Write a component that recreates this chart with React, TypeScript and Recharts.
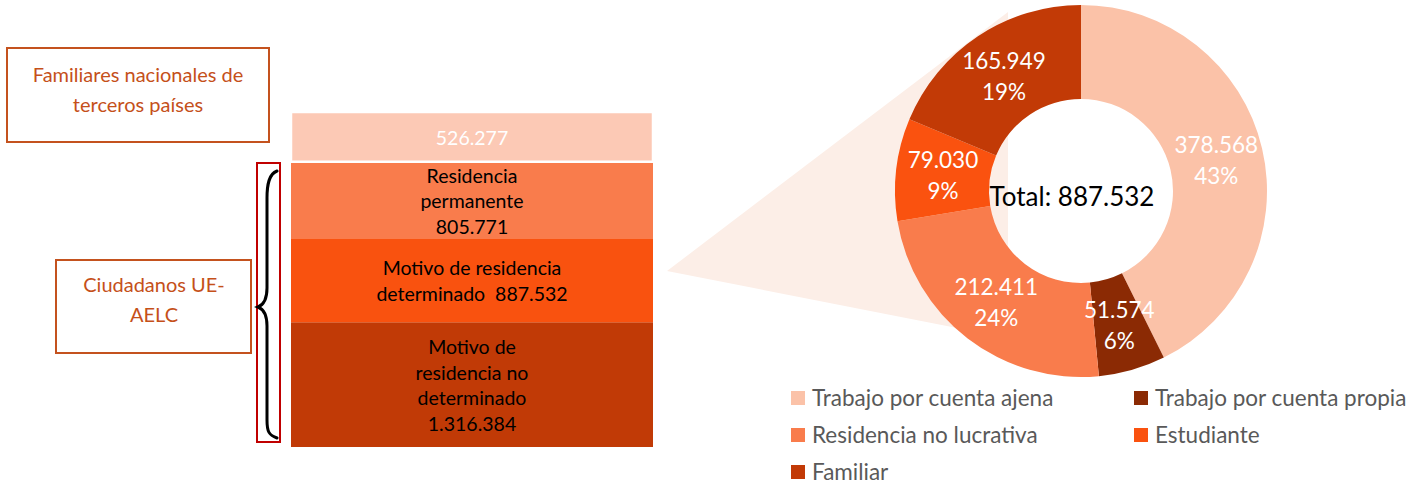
import React from 'react';
import { BarChart, Bar, XAxis, YAxis, LabelList, PieChart, Pie, Cell, Legend, Label } from 'recharts';

// ---- Left stacked column (bottom -> top) ----
const barKeys = ['noDeterminado', 'determinado', 'permanente', 'familiares'];
const barValues = [1316384, 887532, 805771, 526277];
const barColors = ['#C13A06', '#F9520F', '#F97C4C', '#FCC9B5'];
const barLabelLines = [
  ['Motivo de', 'residencia no', 'determinado', '{v}'],
  ['Motivo de residencia', 'determinado  {v}'],
  ['Residencia', 'permanente', '{v}'],
  ['{v}'],
];
const barLabelColors = ['#000000', '#000000', '#000000', '#FFFFFF'];

// ---- Donut ----
const pieCategories = [
  'Trabajo por cuenta ajena',
  'Trabajo por cuenta propia',
  'Residencia no lucrativa',
  'Estudiante',
  'Familiar',
];
const pieValues = [378568, 51574, 212411, 79030, 165949];
const pieColors = ['#FBC2A8', '#8B2A04', '#F97C4C', '#FA520F', '#C23A06'];

// ---- Annotation texts ----
const boxFamiliaresLines = ['Familiares nacionales de', 'terceros países'];
const boxCiudadanosLines = ['Ciudadanos UE-', 'AELC'];

const FONT = 'Lato, "Open Sans", sans-serif';
const fmt = (n: number) => String(n).replace(/\B(?=(\d{3})+(?!\d))/g, '.');

const barRow: Record<string, any> = { name: 'total' };
barKeys.forEach((k, i) => (barRow[k] = barValues[i]));
const barData = [barRow];
const barTotal = barValues.reduce((a, b) => a + b, 0);

const pieData = pieCategories.map((name, i) => ({ name, value: pieValues[i], fill: pieColors[i] }));
const pieTotal = pieValues.reduce((a, b) => a + b, 0);

const PIE_CX = 301;
const PIE_CY = 191;

const makeBarLabel = (idx: number) => (props: any) => {
  const vb = props.viewBox || props;
  const x = Number(vb.x ?? props.x);
  const y = Number(vb.y ?? props.y);
  const w = Number(vb.width ?? props.width);
  const h = Number(vb.height ?? props.height);
  const value = props.value ?? barValues[idx];
  const lines = barLabelLines[idx].map((l) => l.replace('{v}', fmt(Number(value))));
  const cx = x + w / 2;
  const cy = y + h / 2;
  const lh = 25.5;
  return (
    <text
      key={`bl-${idx}`}
      x={cx}
      textAnchor="middle"
      dominantBaseline="central"
      fill={barLabelColors[idx]}
      fontSize={19.5}
      fontFamily={FONT}
    >
      {lines.map((l, i) => (
        <tspan key={i} x={cx} y={cy + (i - (lines.length - 1) / 2) * lh} style={{ whiteSpace: 'pre' }}>
          {l}
        </tspan>
      ))}
    </text>
  );
};

const RAD = Math.PI / 180;
const renderPieLabel = (p: any) => {
  const { cx, cy, midAngle, innerRadius, outerRadius, value, percent } = p;
  const r = (innerRadius + outerRadius) / 2;
  const x = cx + r * Math.cos(-midAngle * RAD);
  const y = cy + r * Math.sin(-midAngle * RAD);
  return (
    <text x={x} textAnchor="middle" dominantBaseline="central" fill="#FFFFFF" fontSize={22.5} fontFamily={FONT}>
      <tspan x={x} y={y - 15.5}>{fmt(value)}</tspan>
      <tspan x={x} y={y + 15.5}>{`${Math.round(percent * 100)}%`}</tspan>
    </text>
  );
};

const renderTotal = () => (
  <text
    x={PIE_CX - 9}
    y={PIE_CY + 4.5}
    textAnchor="middle"
    dominantBaseline="central"
    fill="#000000"
    fontSize={26}
    fontFamily={FONT}
  >
    {`Total: ${fmt(pieTotal)}`}
  </text>
);

const renderLegend = (props: any) => {
  const given: any[] = props.payload && props.payload.length
    ? props.payload
    : pieCategories.map((c, i) => ({ value: c, color: pieColors[i] }));
  const payload = [...given].sort(
    (a, b) => pieCategories.indexOf(String(a.value)) - pieCategories.indexOf(String(b.value))
  );
  return (
    <div style={{ display: 'grid', gridTemplateColumns: '343px 300px', fontFamily: FONT }}>
      {payload.map((e: any, i: number) => (
        <div key={i} style={{ display: 'flex', alignItems: 'center', height: 37 }}>
          <span style={{ width: 14, height: 14, background: e.color, display: 'inline-block', marginRight: 7 }} />
          <span style={{ fontSize: 22.5, lineHeight: '22px', color: '#595959', whiteSpace: 'nowrap' }}>{e.value}</span>
        </div>
      ))}
    </div>
  );
};

export default function App() {
  return (
    <div
      style={{
        position: 'absolute',
        left: 0,
        top: 0,
        width: 1423,
        height: 483,
        background: '#FFFFFF',
        fontFamily: FONT,
        overflow: 'hidden',
      }}
    >
      <svg width={1423} height={483} style={{ position: 'absolute', left: 0, top: 0 }}>
        <polygon points="667,271 1008,12 1008,338" fill="#FCEEE7" />
        <rect x={7} y={48} width={262} height={94} fill="#FFFFFF" stroke="#C4521E" strokeWidth={2} />
        {boxFamiliaresLines.map((l, i) => (
          <text key={i} x={138} y={82 + i * 30} textAnchor="middle" fontSize={20} fill="#C5501A" fontFamily={FONT}>
            {l}
          </text>
        ))}
        <rect x={56} y={260} width={195} height={93} fill="#FFFFFF" stroke="#C4521E" strokeWidth={2} />
        {boxCiudadanosLines.map((l, i) => (
          <text key={i} x={154} y={292 + i * 30} textAnchor="middle" fontSize={20} fill="#C5501A" fontFamily={FONT}>
            {l}
          </text>
        ))}
        <rect x={257} y={163} width={23} height={279} fill="none" stroke="#C00000" strokeWidth={2} />
        <path
          d="M 277 171 C 269 174, 267 184, 267 198 L 267 288 C 267 299, 263 305, 258 307 C 263 309, 267 315, 267 326 L 267 420 C 267 432, 269 435, 277 438"
          fill="none"
          stroke="#000000"
          strokeWidth={3}
          strokeLinecap="round"
        />
      </svg>

      <div style={{ position: 'absolute', left: 291, top: 112 }}>
        <BarChart width={362} height={335} data={barData} margin={{ top: 0, right: 0, bottom: 0, left: 0 }} barCategoryGap={0}>
          <XAxis dataKey="name" type="category" hide />
          <YAxis type="number" domain={[0, barTotal]} hide />
          {barKeys.map((k, i) => (
            <Bar
              key={k}
              dataKey={k}
              stackId="a"
              fill={barColors[i]}
              stroke={i === barKeys.length - 1 ? '#FFFFFF' : 'none'}
              strokeWidth={i === barKeys.length - 1 ? 2.5 : 0}
              isAnimationActive={false}
            >
              <LabelList dataKey={k} content={makeBarLabel(i)} />
            </Bar>
          ))}
        </BarChart>
      </div>

      <div style={{ position: 'absolute', left: 780, top: 0 }}>
        <PieChart width={643} height={483} margin={{ top: 0, right: 0, bottom: 0, left: 0 }}>
          <Pie
            data={pieData}
            dataKey="value"
            nameKey="name"
            cx={PIE_CX}
            cy={PIE_CY}
            innerRadius={92}
            outerRadius={186}
            startAngle={90}
            endAngle={-270}
            stroke="none"
            label={renderPieLabel}
            labelLine={false}
            isAnimationActive={false}
          >
            {pieData.map((d, i) => (
              <Cell key={d.name} fill={pieColors[i]} />
            ))}
            <Label position="center" content={renderTotal} />
          </Pie>
          <Legend
            layout="vertical"
            align="center"
            verticalAlign="middle"
            itemSorter={(item: any) => pieCategories.indexOf(String(item.value))}
            content={renderLegend}
            wrapperStyle={{ left: 11, top: 379, width: 643, height: 104 }}
          />
        </PieChart>
      </div>
    </div>
  );
}
